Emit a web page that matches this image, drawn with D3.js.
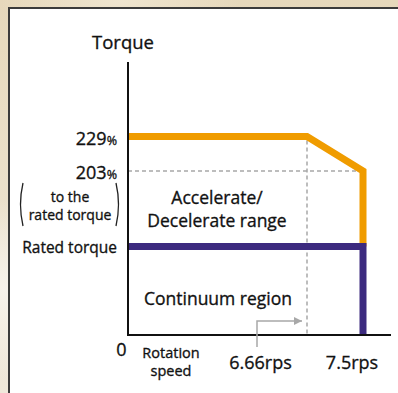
<!DOCTYPE html>
<html>
<head>
<meta charset="utf-8">
<script src="https://cdn.jsdelivr.net/npm/d3@7"></script>
<style>
  html, body { margin: 0; padding: 0; }
  body {
    width: 398px; height: 393px; overflow: hidden;
    background:
      radial-gradient(ellipse 60px 90px at 4px 290px, #f7f3ec 0%, rgba(247,243,236,0) 100%),
      radial-gradient(ellipse 120px 30px at 120px 2px, #efe5cf 0%, rgba(239,229,207,0) 100%),
      linear-gradient(180deg, #e6d8bb 0%, #eadfc8 40%, #efe8da 100%);
  }
  svg { display: block; }
  text {
    font-family: "Open Sans", "Noto Sans", sans-serif; font-weight: 400;
    fill: #111; stroke: #111; stroke-width: 0.32px; paint-order: stroke;
  }
</style>
</head>
<body>
<svg id="chart" width="398" height="393"></svg>
<script>
// Speed-torque characteristic of the motor (schematic)
const speedTicks = [0, 6.66, 7.5];
const speedTickLabels = ["0", "6.66rps", "7.5rps"];
const torqueTicks = [229, 203];
const torqueTickLabels = ["229", "203"];
const ratedTorque = 100;

// Accelerate / decelerate boundary (speed in rps, torque in % of rated)
const accelSpeed  = [0, 6.66, 7.5, 7.5];
const accelTorque = [229, 229, 203, 100];
// Continuous operation boundary
const contSpeed  = [0, 7.5, 7.5];
const contTorque = [100, 100, 0];

const colors = { accel: "#f09c00", cont: "#3c2a7f", guide: "#a8a8a8", axis: "#111" };

const svg = d3.select("#chart");

// White panel with a dark frame
svg.append("rect")
  .attr("x", 9).attr("y", 8).attr("width", 400).attr("height", 400)
  .attr("fill", "#fff").attr("stroke", "#3b3b3b").attr("stroke-width", 2);

// Schematic (piecewise) scales
const x = d3.scaleLinear().domain([0, 6.66, 7.5]).range([128, 307, 363]);
const y = d3.scaleLinear().domain([0, ratedTorque, 203, 229]).range([335, 246.5, 171, 136.5]);

const line = d3.line().x(d => x(d[0])).y(d => y(d[1]));

// Guide lines
svg.append("line")
  .attr("x1", x(0)).attr("x2", x(7.5))
  .attr("y1", y(203)).attr("y2", y(203))
  .attr("stroke", colors.guide).attr("stroke-width", 1.5).attr("stroke-dasharray", "4,3");
svg.append("line")
  .attr("x1", x(6.66)).attr("x2", x(6.66))
  .attr("y1", y(229) + 4).attr("y2", y(0))
  .attr("stroke", colors.guide).attr("stroke-width", 1.5).attr("stroke-dasharray", "4,3");

// Accelerate / decelerate limit
svg.append("path")
  .datum(d3.zip(accelSpeed, accelTorque))
  .attr("d", line)
  .attr("fill", "none").attr("stroke", colors.accel)
  .attr("stroke-width", 7).attr("stroke-linejoin", "miter");

// Continuous limit
svg.append("path")
  .datum(d3.zip(contSpeed, contTorque))
  .attr("d", line)
  .attr("fill", "none").attr("stroke", colors.cont)
  .attr("stroke-width", 7).attr("stroke-linejoin", "miter");

// Axes
svg.append("line")
  .attr("x1", x(0)).attr("x2", x(0)).attr("y1", 62).attr("y2", y(0) + 1)
  .attr("stroke", colors.axis).attr("stroke-width", 2);
svg.append("line")
  .attr("x1", x(0) - 1).attr("x2", 391).attr("y1", y(0)).attr("y2", y(0))
  .attr("stroke", colors.axis).attr("stroke-width", 2);

// Axis titles
svg.append("text").attr("x", 123).attr("y", 48.5).attr("text-anchor", "middle")
  .attr("font-size", 18.5).text("Torque");

const rot = svg.append("text").attr("text-anchor", "middle").attr("font-size", 14.5);
rot.append("tspan").attr("x", 171).attr("y", 357.5).text("Rotation");
rot.append("tspan").attr("x", 171).attr("y", 376).text("speed");

// Torque tick labels
torqueTicks.forEach((v, i) => {
  const t = svg.append("text").attr("x", 117).attr("y", y(v) + 8)
    .attr("text-anchor", "end");
  t.append("tspan").attr("font-size", 18).text(torqueTickLabels[i]);
  t.append("tspan").attr("font-size", 12.5).text("%");
});

// "(to the rated torque)" note with tall parentheses
const note = svg.append("text").attr("text-anchor", "middle").attr("font-size", 14);
note.append("tspan").attr("x", 70).attr("y", 201.5).text("to the");
note.append("tspan").attr("x", 70).attr("y", 220).text("rated torque");
const paren = (x0, dir) => `M${x0},183 Q${x0 - dir * 5},204.5 ${x0},226`;
svg.append("path").attr("d", paren(23, 1))
  .attr("fill", "none").attr("stroke", "#222").attr("stroke-width", 1.3);
svg.append("path").attr("d", paren(116, -1))
  .attr("fill", "none").attr("stroke", "#222").attr("stroke-width", 1.3);

svg.append("text").attr("x", 117).attr("y", y(ratedTorque) + 6.5)
  .attr("text-anchor", "end").attr("font-size", 15.5).text("Rated torque");

// Speed tick labels
svg.append("text").attr("x", 121.5).attr("y", 356).attr("text-anchor", "middle")
  .attr("font-size", 18).text(speedTickLabels[0]);
[1, 2].forEach(i => {
  svg.append("text")
    .attr("x", i === 1 ? 260.5 : 352).attr("y", 369)
    .attr("text-anchor", "middle").attr("font-size", 18)
    .text(speedTickLabels[i]);
});

// Pointer from the 6.66rps label to its guide line
svg.append("defs").append("marker")
  .attr("id", "arrow").attr("viewBox", "0 0 10 10")
  .attr("refX", 10).attr("refY", 5)
  .attr("markerWidth", 8).attr("markerHeight", 8)
  .attr("markerUnits", "userSpaceOnUse").attr("orient", "auto")
  .append("path").attr("d", "M0,0 L10,5 L0,10 Z").attr("fill", colors.guide);
svg.append("path")
  .attr("d", `M257,347 V321 H${x(6.66) - 5}`)
  .attr("fill", "none").attr("stroke", colors.guide).attr("stroke-width", 1.5)
  .attr("marker-end", "url(#arrow)");

// Region labels
const acc = svg.append("text").attr("text-anchor", "middle").attr("font-size", 17.5);
acc.append("tspan").attr("x", 217).attr("y", 204).text("Accelerate/");
acc.append("tspan").attr("x", 217).attr("y", 227).text("Decelerate range");

svg.append("text").attr("x", 218).attr("y", 305).attr("text-anchor", "middle")
  .attr("font-size", 17.5).text("Continuum region");
</script>
</body>
</html>
